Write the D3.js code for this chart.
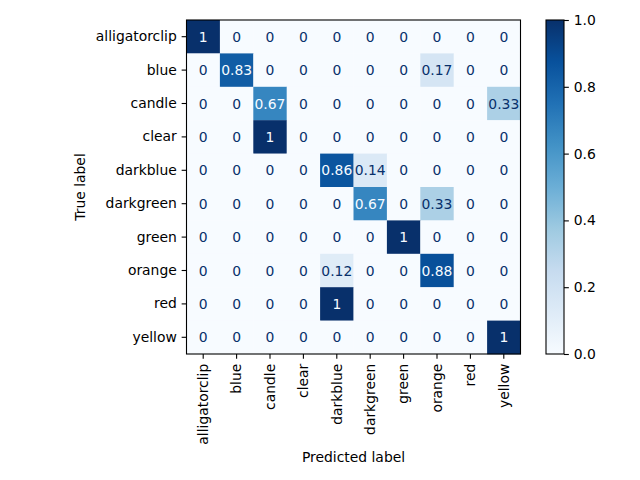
<!DOCTYPE html>
<html>
<head>
<meta charset="utf-8">
<script src="https://cdn.jsdelivr.net/npm/d3@7"></script>
<style>
  body { margin: 0; background: #fff; }
  text { font-family: "DejaVu Sans", sans-serif; }
</style>
</head>
<body>
<script>
//Class Labels
var labels = ['alligatorclip', 'blue', 'candle', 'clear', 'darkblue',
              'darkgreen', 'green', 'orange', 'red', 'yellow'];

//Normalized Confusion Matrix Rows (true label -> predicted label)
var rowAlligatorclip = [1, 0, 0, 0, 0, 0, 0, 0, 0, 0];
var rowBlue          = [0, 0.83, 0, 0, 0, 0, 0, 0.17, 0, 0];
var rowCandle        = [0, 0, 0.67, 0, 0, 0, 0, 0, 0, 0.33];
var rowClear         = [0, 0, 1, 0, 0, 0, 0, 0, 0, 0];
var rowDarkblue      = [0, 0, 0, 0, 0.86, 0.14, 0, 0, 0, 0];
var rowDarkgreen     = [0, 0, 0, 0, 0, 0.67, 0, 0.33, 0, 0];
var rowGreen         = [0, 0, 0, 0, 0, 0, 1, 0, 0, 0];
var rowOrange        = [0, 0, 0, 0, 0.12, 0, 0, 0.88, 0, 0];
var rowRed           = [0, 0, 0, 0, 1, 0, 0, 0, 0, 0];
var rowYellow        = [0, 0, 0, 0, 0, 0, 0, 0, 0, 1];
var matrix = [rowAlligatorclip, rowBlue, rowCandle, rowClear, rowDarkblue,
              rowDarkgreen, rowGreen, rowOrange, rowRed, rowYellow];

//Colorbar Ticks
var colorbarTicks = [0, 0.2, 0.4, 0.6, 0.8, 1.0];

//Matplotlib "Blues" stops
var bluesStops = ['#f7fbff', '#deebf7', '#c6dbef', '#9ecae1', '#6baed6',
                  '#4292c6', '#2171b5', '#08519c', '#08306b'];

var svgWidth = 640, svgHeight = 480;
var plot = {left: 186.5, top: 20, size: 334};
var tickLen = 4.86, fontSize = '13.9px';

var svg = d3.select('body').append('svg')
    .attr('width', svgWidth)
    .attr('height', svgHeight);

var color = d3.scaleLinear()
    .domain(d3.range(bluesStops.length).map(i => i / (bluesStops.length - 1)))
    .range(bluesStops)
    .interpolate(d3.interpolateRgb);

var xScale = d3.scaleBand().domain(labels).range([plot.left, plot.left + plot.size]);
var yScale = d3.scaleBand().domain(labels).range([plot.top, plot.top + plot.size]);

//Flatten cells
var cells = [];
matrix.forEach(function(row, i) {
    row.forEach(function(v, j) {
        cells.push({t: labels[i], p: labels[j], v: v});
    });
});

svg.append('g').selectAll('rect')
    .data(cells).enter().append('rect')
    .attr('x', d => xScale(d.p))
    .attr('y', d => yScale(d.t))
    .attr('width', xScale.bandwidth() + 0.3)
    .attr('height', yScale.bandwidth() + 0.3)
    .attr('fill', d => color(d.v));

svg.append('g').selectAll('text')
    .data(cells).enter().append('text')
    .attr('x', d => xScale(d.p) + xScale.bandwidth() / 2)
    .attr('y', d => yScale(d.t) + yScale.bandwidth() / 2)
    .attr('dy', '0.36em')
    .attr('text-anchor', 'middle')
    .style('font-size', fontSize)
    .attr('fill', d => d.v < 0.5 ? color(1) : color(0))
    .text(d => d3.format('.2~g')(d.v));

//Frame
svg.append('rect')
    .attr('x', plot.left).attr('y', plot.top)
    .attr('width', plot.size).attr('height', plot.size)
    .attr('fill', 'none').attr('stroke', '#000').attr('stroke-width', 1.1);

//Axes
var yAxis = svg.append('g')
    .attr('transform', `translate(${plot.left}, 0)`)
    .call(d3.axisLeft(yScale).tickSize(tickLen).tickSizeOuter(0).tickPadding(4.86));
var xAxis = svg.append('g')
    .attr('transform', `translate(0, ${plot.top + plot.size})`)
    .call(d3.axisBottom(xScale).tickSize(tickLen).tickSizeOuter(0).tickPadding(4.86));
[xAxis, yAxis].forEach(function(a) {
    a.select('.domain').remove();
    a.selectAll('line').attr('stroke', '#000').attr('stroke-width', 1.1);
    a.selectAll('text').style('font-size', fontSize).attr('fill', '#000')
        .style('font-family', '"DejaVu Sans", sans-serif');
});
xAxis.selectAll('text')
    .attr('transform', 'rotate(-90)')
    .attr('text-anchor', 'end')
    .attr('x', -(tickLen + 4.86))
    .attr('y', 0)
    .attr('dy', '0.35em');

//Axis Titles
svg.append('text')
    .attr('x', plot.left + plot.size / 2)
    .attr('y', 462)
    .attr('text-anchor', 'middle')
    .style('font-size', fontSize)
    .text('Predicted label');
svg.append('text')
    .attr('transform', `translate(85, ${plot.top + plot.size / 2}) rotate(-90)`)
    .attr('text-anchor', 'middle')
    .style('font-size', fontSize)
    .text('True label');

//Colorbar
var cb = {x: 546, width: 18};
var cbScale = d3.scaleLinear().domain([0, 1]).range([plot.top + plot.size, plot.top]);
var defs = svg.append('defs');
var grad = defs.append('linearGradient')
    .attr('id', 'cbgrad')
    .attr('x1', 0).attr('y1', 1).attr('x2', 0).attr('y2', 0);
grad.selectAll('stop')
    .data(bluesStops).enter().append('stop')
    .attr('offset', (d, i) => i / (bluesStops.length - 1))
    .attr('stop-color', d => d);
svg.append('rect')
    .attr('x', cb.x).attr('y', plot.top)
    .attr('width', cb.width).attr('height', plot.size)
    .attr('fill', 'url(#cbgrad)')
    .attr('stroke', '#000').attr('stroke-width', 1.1);
var cbAxis = svg.append('g')
    .attr('transform', `translate(${cb.x + cb.width}, 0)`)
    .call(d3.axisRight(cbScale).tickValues(colorbarTicks)
        .tickFormat(d3.format('.1f')).tickSize(tickLen).tickSizeOuter(0).tickPadding(4.86));
cbAxis.select('.domain').remove();
cbAxis.selectAll('line').attr('stroke', '#000').attr('stroke-width', 1.1);
cbAxis.selectAll('text').style('font-size', fontSize).attr('fill', '#000')
    .style('font-family', '"DejaVu Sans", sans-serif');
</script>
</body>
</html>
